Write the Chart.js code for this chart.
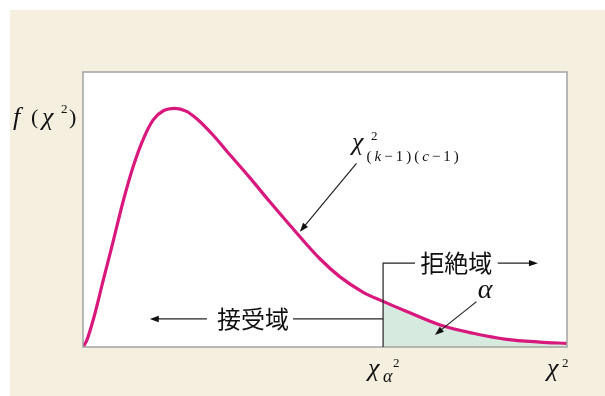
<!DOCTYPE html>
<html>
<head>
<meta charset="utf-8">
<script src="https://cdn.jsdelivr.net/npm/chart.js@4"></script>
<style>
  html, body { margin: 0; padding: 0; background: #fff; }
  canvas { display: block; }
</style>
</head>
<body>
<canvas id="chiChart" width="605" height="396"></canvas>
<script>
// chi-square density curve (x: 0..100 across the box, y: 0..100 up the box)
const chiX = [0, 0.8, 2.1, 4.2, 6.3, 8.3, 10.4, 12.5, 14.5, 16.6, 19.0, 21.4, 23.5, 26.9, 30.4, 34.5,
              38.6, 42.8, 49.0, 53.1, 57.9, 62.0, 66.9, 73.8, 80.6, 87.5, 94.4, 100];
const chiY = [0, 2.5, 9.8, 24.4, 38.9, 53.0, 65.8, 75.8, 82.6, 85.9, 86.8, 85.7, 83.0, 77.0, 69.8, 61.5,
              52.8, 44.2, 32.0, 25.5, 19.9, 16.6, 12.9, 8.0, 5.0, 2.8, 1.8, 1.3];

// critical value chi_alpha^2 and the label positions (same units)
const critX = 62;
const rejectY = 30.5;
const acceptY = 10.2;

const rejectLabel = '拒絶域';
const acceptLabel = '接受域';

const curve = chiX.map((x, i) => ({ x: x, y: chiY[i] }));
const tail = curve.filter(p => p.x >= critX);

const BEIGE = '#f5efdf';
const MAGENTA = '#d8187c';
const SERIF = '"Liberation Serif", "DejaVu Serif", serif';
const CJK = '"Noto Sans CJK JP", "Noto Sans CJK SC", sans-serif';

function arrow(ctx, x1, y1, x2, y2) {
  const a = Math.atan2(y2 - y1, x2 - x1);
  const len = 9, w = 3.2;
  ctx.beginPath();
  ctx.moveTo(x1, y1);
  ctx.lineTo(x2 - Math.cos(a) * len * 0.8, y2 - Math.sin(a) * len * 0.8);
  ctx.stroke();
  ctx.beginPath();
  ctx.moveTo(x2, y2);
  ctx.lineTo(x2 - Math.cos(a) * len + Math.sin(a) * w, y2 - Math.sin(a) * len - Math.cos(a) * w);
  ctx.lineTo(x2 - Math.cos(a) * len - Math.sin(a) * w, y2 - Math.sin(a) * len + Math.cos(a) * w);
  ctx.closePath();
  ctx.fill();
}

function txt(ctx, s, x, y, font, align) {
  ctx.font = font;
  ctx.textAlign = align || 'left';
  ctx.fillText(s, x, y);
}

const decorPlugin = {
  id: 'decor',
  beforeDraw(chart) {
    const ctx = chart.ctx, a = chart.chartArea;
    ctx.save();
    ctx.fillStyle = BEIGE;
    ctx.fillRect(10, 10, chart.width - 10, chart.height - 10);
    ctx.fillStyle = '#fff';
    ctx.fillRect(a.left, a.top, a.right - a.left, a.bottom - a.top);
    ctx.restore();
  },
  afterDraw(chart) {
    const ctx = chart.ctx, a = chart.chartArea;
    const X = v => chart.scales.x.getPixelForValue(v);
    const Y = v => chart.scales.y.getPixelForValue(v);
    ctx.save();

    // box
    ctx.strokeStyle = '#a3a3a3';
    ctx.lineWidth = 1.5;
    ctx.strokeRect(a.left, a.top, a.right - a.left, a.bottom - a.top);

    ctx.strokeStyle = '#222';
    ctx.fillStyle = '#111';
    ctx.lineWidth = 1.2;

    // critical line + reject bracket
    ctx.beginPath();
    ctx.moveTo(X(critX), Y(0));
    ctx.lineTo(X(critX), Y(rejectY));
    ctx.lineTo(X(68.6), Y(rejectY));
    ctx.stroke();
    arrow(ctx, X(85.7), Y(rejectY), X(94), Y(rejectY));
    ctx.textBaseline = 'middle';
    txt(ctx, rejectLabel, X(77.1), Y(rejectY), '24px ' + CJK, 'center');

    // accept region
    ctx.beginPath();
    ctx.moveTo(X(43.4), Y(acceptY));
    ctx.lineTo(X(critX), Y(acceptY));
    ctx.stroke();
    arrow(ctx, X(25.6), Y(acceptY), X(13.8), Y(acceptY));
    txt(ctx, acceptLabel, X(35.1), Y(acceptY), '24px ' + CJK, 'center');

    // alpha + arrow
    ctx.textBaseline = 'alphabetic';
    txt(ctx, 'α', X(83.1), 298, 'italic 28px ' + SERIF, 'center');
    arrow(ctx, X(81.3), Y(16.5), X(72.7), Y(4.4));

    // curve label + arrow
    arrow(ctx, X(56.5), Y(66.8), X(44.8), Y(41.9));
    txt(ctx, 'χ', X(55.6), 150, 'italic 26px ' + SERIF);
    txt(ctx, '2', X(59.5), 140, '13px ' + SERIF);
    let sx = X(58.6);
    ['(', 'k', '−', '1', ')', '(', 'c', '−', '1', ')'].forEach(ch => {
      const f = (ch === 'k' || ch === 'c') ? 'italic 15px ' + SERIF : '15px ' + SERIF;
      txt(ctx, ch, sx, 161, f);
      sx += ctx.measureText(ch).width + 3;
    });

    // y label f(chi^2)
    txt(ctx, 'f', 13, 125, 'italic 26px ' + SERIF);
    txt(ctx, '(', 31, 124, '22px ' + SERIF);
    txt(ctx, 'χ', 42, 125, 'italic 26px ' + SERIF);
    txt(ctx, '2', 61, 113, '13px ' + SERIF);
    txt(ctx, ')', 69, 124, '22px ' + SERIF);

    // x labels
    const cx = X(critX);
    txt(ctx, 'χ', cx - 15, 376, 'italic 26px ' + SERIF);
    txt(ctx, 'α', cx, 382, 'italic 18px ' + SERIF);
    txt(ctx, '2', cx + 10, 367, '13px ' + SERIF);
    const rx = X(100);
    txt(ctx, 'χ', rx - 20, 376, 'italic 26px ' + SERIF);
    txt(ctx, '2', rx - 5, 367, '13px ' + SERIF);

    ctx.restore();
  }
};

new Chart(document.getElementById('chiChart').getContext('2d'), {
  type: 'line',
  data: {
    datasets: [
      {
        data: curve,
        borderColor: MAGENTA,
        borderWidth: 3.2,
        pointRadius: 0,
        fill: false,
        cubicInterpolationMode: 'monotone',
        order: 0
      },
      {
        data: tail,
        borderWidth: 0,
        borderColor: 'rgba(0,0,0,0)',
        backgroundColor: '#d6eadf',
        pointRadius: 0,
        fill: 'origin',
        cubicInterpolationMode: 'monotone',
        order: 1
      }
    ]
  },
  options: {
    responsive: false,
    animation: false,
    devicePixelRatio: 1,
    layout: { padding: { left: 83, top: 72, right: 38, bottom: 49 } },
    scales: {
      x: { type: 'linear', min: 0, max: 100, display: false },
      y: { min: 0, max: 100, display: false }
    },
    plugins: { legend: { display: false }, tooltip: { enabled: false } }
  },
  plugins: [decorPlugin]
});
</script>
</body>
</html>
